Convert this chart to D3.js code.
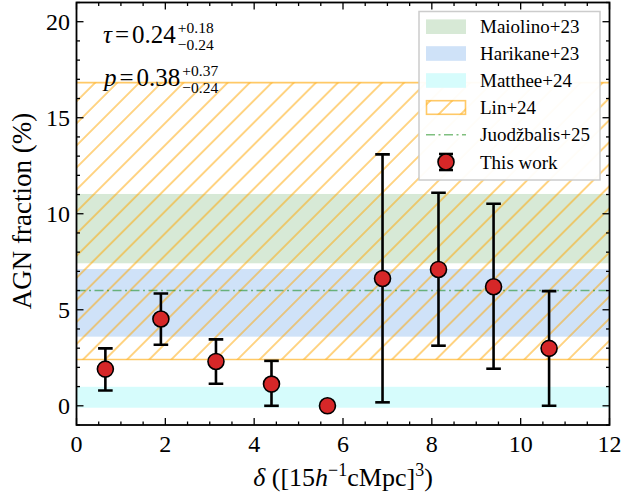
<!DOCTYPE html>
<html><head><meta charset="utf-8">
<script src="https://cdn.jsdelivr.net/npm/d3@7"></script>
<style>
html,body{margin:0;padding:0;background:#fff;}
svg text{font-family:"Liberation Serif","Times New Roman",serif;}
</style></head>
<body>
<svg id="c" width="626" height="499"></svg>
<script>
// ---- data ----
const delta = [0.65, 1.90, 3.14, 4.39, 5.65, 6.89, 8.15, 9.39, 10.64];
const agnFrac = [1.91, 4.52, 2.31, 1.13, 0.0, 6.63, 7.10, 6.20, 2.99];
const errLow = [0.80, 3.18, 1.15, 0.0, 0.0, 0.18, 3.13, 1.93, 0.0];
const errHigh = [2.99, 5.85, 3.46, 2.34, 0.0, 13.09, 11.09, 10.52, 5.97];
const bandNames = ["Maiolino+23", "Harikane+23", "Matthee+24"];
const bandLow = [7.42, 3.60, -0.10];
const bandHigh = [11.03, 7.12, 0.99];
const bandColors = ["#d7e9d6", "#cfe2f8", "#d6fcfc"];
const linRange = [2.41, 16.83];
const juodLevel = 6.0;
const xTicks = [0, 2, 4, 6, 8, 10, 12];
const yTicks = [0, 5, 10, 15, 20];
const FONT = "Liberation Serif";

const svg = d3.select("#c");
const L = 76.5, R = 609.5, T = 2.5, B = 425;
const x = d3.scaleLinear().domain([0, 12]).range([L, R]);
const y = d3.scaleLinear().domain([-1, 21]).range([B, T]);

const defs = svg.append("defs");
const pat = defs.append("pattern").attr("id", "hatch")
  .attr("patternUnits", "userSpaceOnUse").attr("width", 15.6).attr("height", 10)
  .attr("patternTransform", "rotate(45)");
pat.append("line").attr("x1", 1).attr("x2", 1).attr("y1", 0).attr("y2", 10)
  .attr("stroke", "#ffa500").attr("stroke-opacity", 0.6).attr("stroke-width", 1.6);
defs.append("clipPath").attr("id", "clip").append("rect")
  .attr("x", L).attr("y", T).attr("width", R - L).attr("height", B - T);

const g = svg.append("g").attr("clip-path", "url(#clip)");
bandNames.forEach((n, i) => {
  g.append("rect").attr("x", x(0)).attr("width", x(12) - x(0))
    .attr("y", y(bandHigh[i])).attr("height", y(bandLow[i]) - y(bandHigh[i]))
    .attr("fill", bandColors[i]);
});
g.append("rect").attr("x", x(0)).attr("width", x(12) - x(0))
  .attr("y", y(linRange[1])).attr("height", y(linRange[0]) - y(linRange[1]))
  .attr("fill", "url(#hatch)");
[linRange[0], linRange[1]].forEach(v => {
  g.append("line").attr("x1", x(0)).attr("x2", x(12)).attr("y1", y(v)).attr("y2", y(v))
    .attr("stroke", "#ffa500").attr("stroke-opacity", 0.6).attr("stroke-width", 1.6);
});
g.append("line").attr("x1", x(0)).attr("x2", x(12)).attr("y1", y(juodLevel)).attr("y2", y(juodLevel))
  .attr("stroke", "#008000").attr("stroke-opacity", 0.5).attr("stroke-width", 1.6)
  .attr("stroke-dasharray", "9,3.5,2,3.5");

const pts = delta.map((d, i) => ({x: d, y: agnFrac[i], lo: errLow[i], hi: errHigh[i]}));
const eb = g.append("g");
pts.forEach(p => {
  if (p.hi - p.lo <= 0) return;
  eb.append("line").attr("x1", x(p.x)).attr("x2", x(p.x)).attr("y1", y(p.lo)).attr("y2", y(p.hi))
    .attr("stroke", "#000").attr("stroke-width", 2.6);
  [p.lo, p.hi].forEach(v => eb.append("line").attr("x1", x(p.x) - 7.3).attr("x2", x(p.x) + 7.3)
    .attr("y1", y(v)).attr("y2", y(v)).attr("stroke", "#000").attr("stroke-width", 2.6));
});
g.append("g").selectAll("circle").data(pts).join("circle")
  .attr("cx", d => x(d.x)).attr("cy", d => y(d.y)).attr("r", 8)
  .attr("fill", "#d62728").attr("stroke", "#000").attr("stroke-width", 1.6);

const ax = svg.append("g");
const tickStyle = sel => sel.attr("stroke", "#000").attr("stroke-width", 1.3);
const xMinor = d3.range(0, 12.01, 0.5), yMinor = d3.range(-1, 21.01, 1);
xMinor.forEach(v => {
  const len = xTicks.includes(v) ? 7 : 3.5;
  tickStyle(ax.append("line").attr("x1", x(v)).attr("x2", x(v)).attr("y1", B).attr("y2", B - len));
  tickStyle(ax.append("line").attr("x1", x(v)).attr("x2", x(v)).attr("y1", T).attr("y2", T + len));
});
yMinor.forEach(v => {
  const len = yTicks.includes(v) ? 7 : 3.5;
  tickStyle(ax.append("line").attr("x1", L).attr("x2", L + len).attr("y1", y(v)).attr("y2", y(v)));
  tickStyle(ax.append("line").attr("x1", R).attr("x2", R - len).attr("y1", y(v)).attr("y2", y(v)));
});
ax.append("rect").attr("x", L).attr("y", T).attr("width", R - L).attr("height", B - T)
  .attr("fill", "none").attr("stroke", "#000").attr("stroke-width", 1.8);

ax.selectAll(".xt").data(xTicks).join("text").attr("class", "xt")
  .attr("x", d => x(d)).attr("y", 452).attr("text-anchor", "middle")
  .attr("font-family", FONT).attr("font-size", 24).text(d => d);
ax.selectAll(".yt").data(yTicks).join("text").attr("class", "yt")
  .attr("x", 70).attr("y", d => y(d) + 8).attr("text-anchor", "end")
  .attr("font-family", FONT).attr("font-size", 24).text(d => d);

const xl = svg.append("text").attr("x", 343).attr("y", 486).attr("text-anchor", "middle")
  .attr("font-family", FONT).attr("font-size", 26);
xl.append("tspan").attr("font-style", "italic").text("δ");
xl.append("tspan").text(" ([15");
xl.append("tspan").attr("font-style", "italic").text("h");
xl.append("tspan").attr("font-size", 18).attr("dy", -10).text("−1");
xl.append("tspan").attr("dy", 10).text("cMpc]");
xl.append("tspan").attr("font-size", 18).attr("dy", -10).text("3");
xl.append("tspan").attr("dy", 10).text(")");
svg.append("text").attr("transform", "translate(31,211) rotate(-90)")
  .attr("text-anchor", "middle").attr("font-family", FONT).attr("font-size", 27).text("AGN fraction (%)");

// annotations: one text element each, with super/subscript tspans
function annot(sym, val, up, dn, bx, by) {
  const t = svg.append("text").attr("x", bx).attr("y", by).attr("font-family", FONT).attr("font-size", 25);
  t.append("tspan").attr("font-style", "italic").text(sym);
  t.append("tspan").attr("dx", 3).text("=");
  t.append("tspan").attr("dx", 3).text(val);
  const end = t.node().getComputedTextLength() + 6 + bx;
  t.append("tspan").attr("x", end + 2).attr("y", by - 10).attr("font-size", 15.5).text(up);
  t.append("tspan").attr("x", end + 2).attr("y", by + 7).attr("font-size", 15.5).text(dn);
}
annot("τ", "0.24", "+0.18", "−0.24", 103, 43);
annot("p", "0.38", "+0.37", "−0.24", 104, 86);

const lg = svg.append("g");
lg.append("rect").attr("x", 419).attr("y", 11.5).attr("width", 181).attr("height", 168.5)
  .attr("fill", "#fff").attr("fill-opacity", 0.95).attr("stroke", "#cccccc").attr("stroke-width", 1.5);
const legNames = ["Maiolino+23", "Harikane+23", "Matthee+24", "Lin+24", "Juodžbalis+25", "This work"];
const legY = [26.7, 53.5, 80.5, 107.5, 134.8, 162];
legNames.forEach((n, i) => {
  const cy = legY[i];
  if (i < 3) {
    lg.append("rect").attr("x", 426).attr("y", cy - 7.3).attr("width", 40).attr("height", 14.6).attr("fill", bandColors[i]);
  } else if (i === 3) {
    lg.append("rect").attr("x", 426.5).attr("y", cy - 6.8).attr("width", 39).attr("height", 13.6)
      .attr("fill", "url(#hatch)").attr("stroke", "#ffa500").attr("stroke-opacity", 0.6).attr("stroke-width", 1.6);
  } else if (i === 4) {
    lg.append("line").attr("x1", 426).attr("x2", 466).attr("y1", cy).attr("y2", cy)
      .attr("stroke", "#008000").attr("stroke-opacity", 0.5).attr("stroke-width", 1.6)
      .attr("stroke-dasharray", "9,3.5,2,3.5");
  } else {
    lg.append("line").attr("x1", 446).attr("x2", 446).attr("y1", cy - 8).attr("y2", cy + 8).attr("stroke", "#000").attr("stroke-width", 2.6);
    [cy - 8, cy + 8].forEach(v => lg.append("line").attr("x1", 439).attr("x2", 453).attr("y1", v).attr("y2", v).attr("stroke", "#000").attr("stroke-width", 2.6));
    lg.append("circle").attr("cx", 446).attr("cy", cy).attr("r", 8).attr("fill", "#d62728").attr("stroke", "#000").attr("stroke-width", 1.6);
  }
  lg.append("text").attr("x", 480).attr("y", cy + 6.5).attr("font-family", FONT).attr("font-size", 19).text(n);
});
</script>
</body></html>
